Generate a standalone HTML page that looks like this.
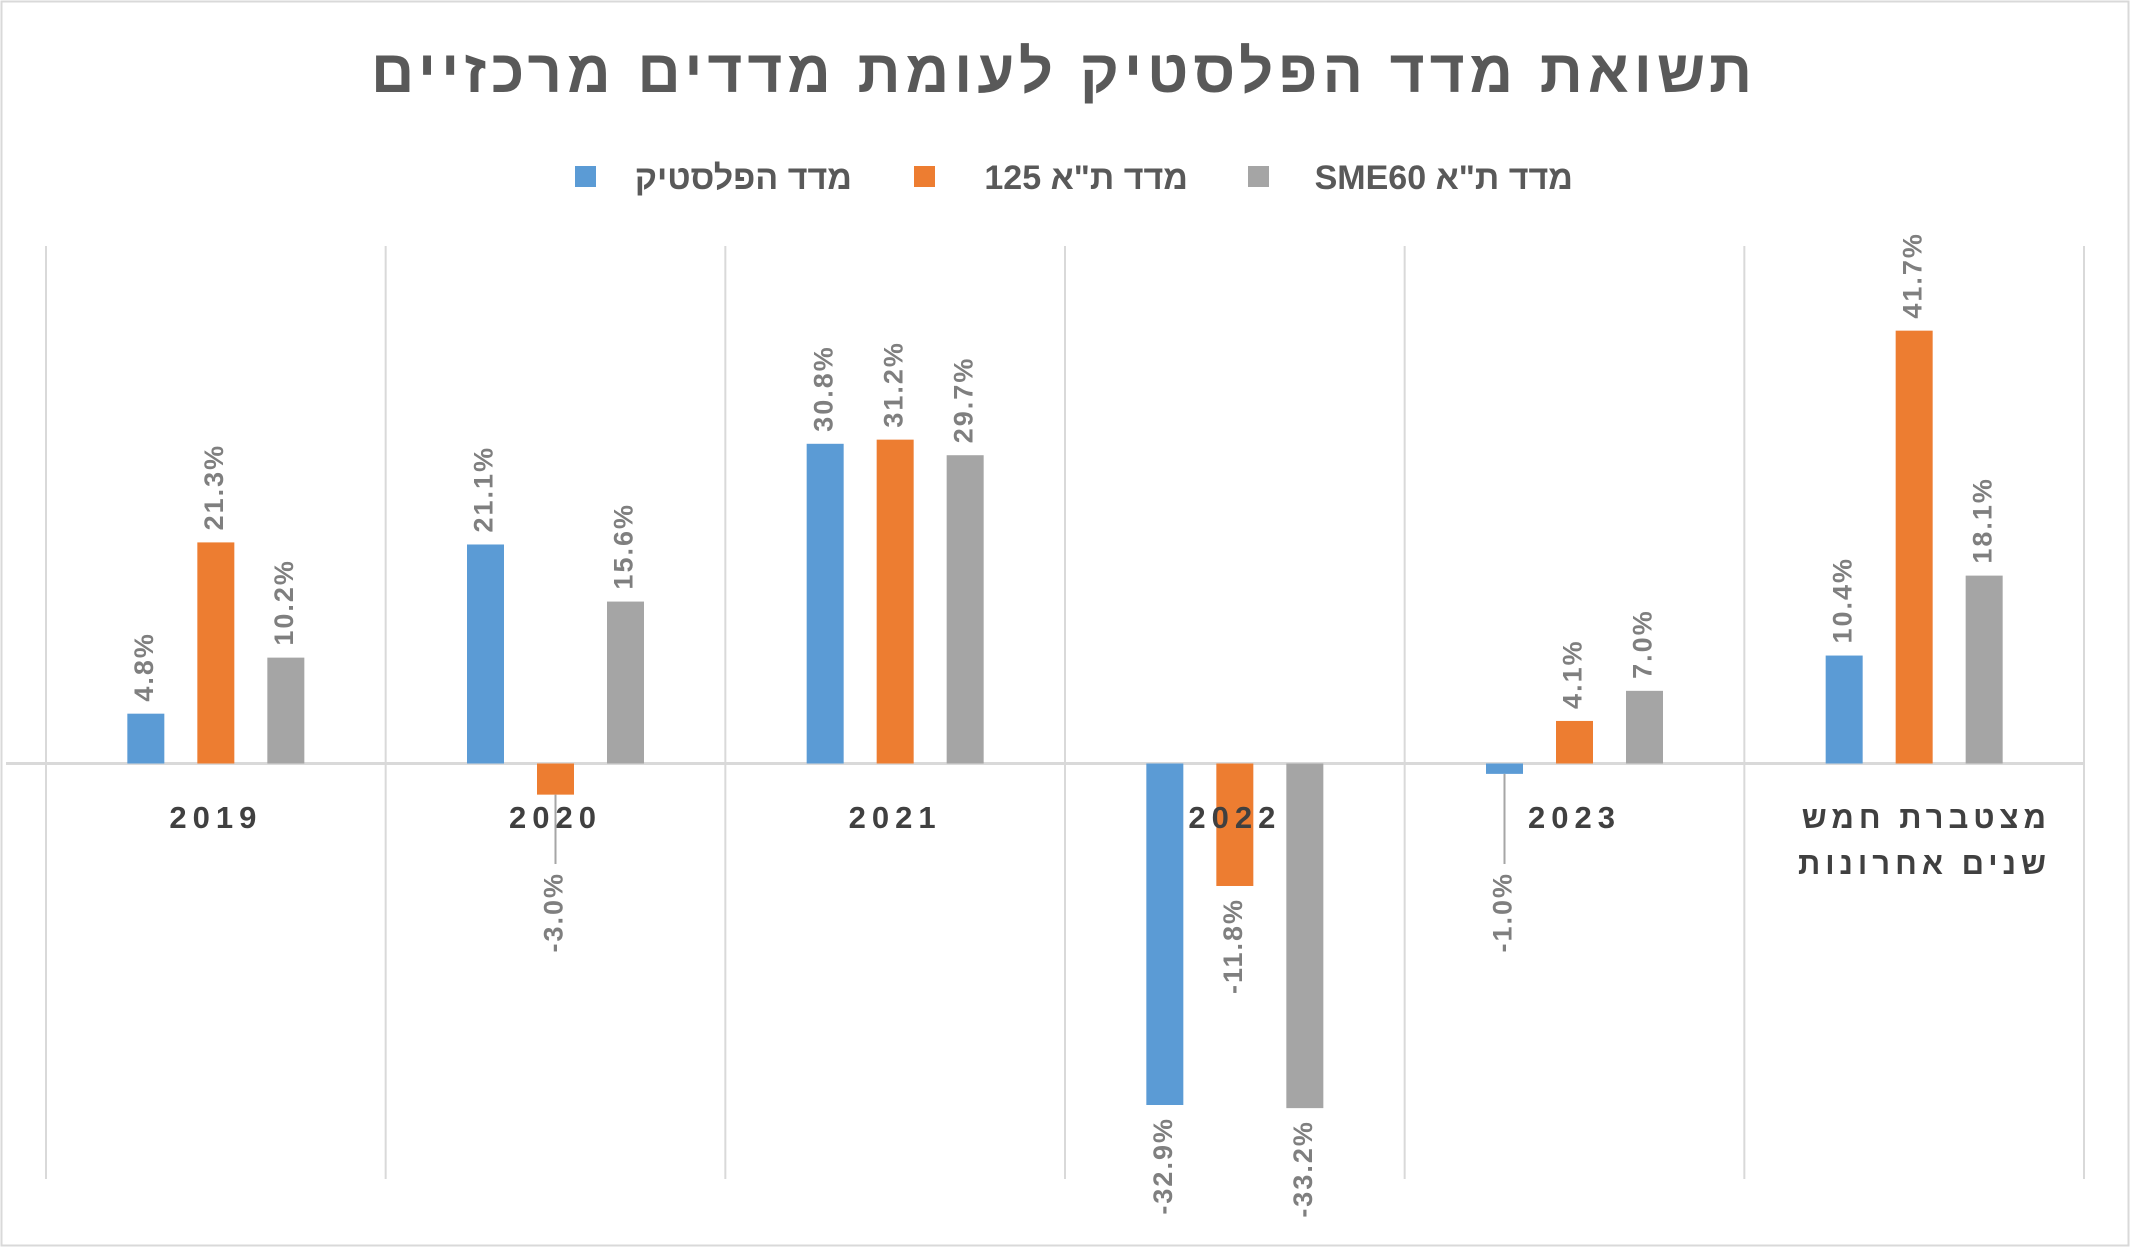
<!DOCTYPE html>
<html lang="he"><head><meta charset="utf-8">
<style>
html,body{margin:0;padding:0;background:#fff;}
svg{display:block;}
text{font-family:"Liberation Sans","Noto Sans CJK SC",sans-serif;}
</style></head>
<body>
<svg id="chart" width="2130" height="1247" viewBox="0 0 2130 1247" xmlns="http://www.w3.org/2000/svg">
  <rect x="1.5" y="1.5" width="2127" height="1244" fill="#fff" stroke="#d9d9d9" stroke-width="2"/>
  <text x="1064" y="92" text-anchor="middle" font-size="60" font-weight="bold" fill="#595959" letter-spacing="5">תשואת מדד הפלסטיק לעומת מדדים מרכזיים</text>
  <g id="legend">
    <g>
      <rect x="575" y="166" width="21" height="21" fill="#5B9BD5"/>
      <text x="852" y="189" text-anchor="end" font-size="34" font-weight="bold" fill="#595959">מדד הפלסטיק</text>
    </g>
    <g>
      <rect x="914" y="166" width="21" height="21" fill="#ED7D31"/>
      <text x="1188" y="189" text-anchor="end" font-size="34" font-weight="bold" fill="#595959">125 מדד ת"א</text>
    </g>
    <g>
      <rect x="1248" y="166" width="21" height="21" fill="#A5A5A5"/>
      <text x="1573" y="189" text-anchor="end" font-size="34" font-weight="bold" fill="#595959">SME60 מדד ת"א</text>
    </g>
  </g>
  <g id="grid"></g>
  <g id="bars"></g>
  <g id="labels"></g>
  <g id="cats"></g>
</svg>
<script>
const categories = ["2019", "2020", "2021", "2022", "2023", "מצטברת חמש|שנים אחרונות"];
const plasticValues = [4.8, 21.1, 30.8, -32.9, -1.0, 10.4];
const ta125Values = [21.3, -3.0, 31.2, -11.8, 4.1, 41.7];
const sme60Values = [10.2, 15.6, 29.7, -33.2, 7.0, 18.1];

const NS = "http://www.w3.org/2000/svg";
const plotLeft = 46, plotRight = 2084, plotTop = 246, plotBottom = 1179;
const zeroY = 763.5, pxPerUnit = 10.38;
const catW = (plotRight - plotLeft) / categories.length;
const barW = 37, barStep = 70;
function yScale(v) { return zeroY - v * pxPerUnit; }
function xCenter(i) { return plotLeft + catW * (i + 0.5); }
function mk(tag, attrs) { const e = document.createElementNS(NS, tag); for (const k in attrs) e.setAttribute(k, attrs[k]); return e; }

const grid = document.getElementById("grid");
for (let i = 0; i <= categories.length; i++) {
  const x = plotLeft + catW * i;
  const l = mk("line", {x1: x, x2: x, y1: plotTop, y2: plotBottom, stroke: "#d9d9d9", "stroke-width": 2});
  
  
  grid.appendChild(l);
}
const axis = mk("line", {x1: plotLeft - 40, x2: plotRight, y1: zeroY, y2: zeroY, stroke: "#d9d9d9", "stroke-width": 3});


grid.appendChild(axis);

const series = [
  {vals: plasticValues, color: "#5B9BD5", name: "plastic"},
  {vals: ta125Values, color: "#ED7D31", name: "ta125"},
  {vals: sme60Values, color: "#A5A5A5", name: "sme60"}
];
const barsG = document.getElementById("bars");
const labelsG = document.getElementById("labels");
series.forEach((s, si) => {
  s.vals.forEach((v, i) => {
    const cx = xCenter(i) + (si - 1) * barStep;
    const y0 = yScale(Math.max(v, 0)), y1 = yScale(Math.min(v, 0));
    const r = mk("rect", {x: cx - barW / 2, y: y0, width: barW, height: Math.max(y1 - y0, 1), fill: s.color});
    
    
    barsG.appendChild(r);
    const txt = v.toFixed(1) + "%";
    let t;
    if (v >= 0) {
      const ty = yScale(v) - 12;
      t = mk("text", {x: cx, y: ty, transform: "rotate(-90 " + cx + " " + ty + ")", "text-anchor": "start", "dominant-baseline": "middle", "font-size": 27, "font-weight": "bold", fill: "#7f7f7f", "letter-spacing": 2});
    } else {
      let ty = yScale(v) + 12;
      if (yScale(v) < 850) {
        const top = 872;
        const ll = mk("line", {x1: cx, x2: cx, y1: yScale(v), y2: top - 8, stroke: "#a6a6a6", "stroke-width": 2});
        
        
        labelsG.appendChild(ll);
        ty = top;
      }
      t = mk("text", {x: cx, y: ty, transform: "rotate(-90 " + cx + " " + ty + ")", "text-anchor": "end", "dominant-baseline": "middle", "font-size": 27, "font-weight": "bold", fill: "#7f7f7f", "letter-spacing": 2});
    }
    t.textContent = txt;
    
    
    labelsG.appendChild(t);
  });
});

const catsG = document.getElementById("cats");
categories.forEach((c, i) => {
  const lines = c.split("|");
  lines.forEach((ln, li) => {
    const multi = lines.length > 1;
    const t = mk("text", {x: multi ? 2051 : xCenter(i), y: 828 + li * 46, "text-anchor": multi ? "end" : "middle", "font-size": 31, "font-weight": "bold", fill: "#404040", "letter-spacing": multi ? 5 : 6});
    t.textContent = ln;
    
    
    catsG.appendChild(t);
  });
});
</script>
</body></html>
